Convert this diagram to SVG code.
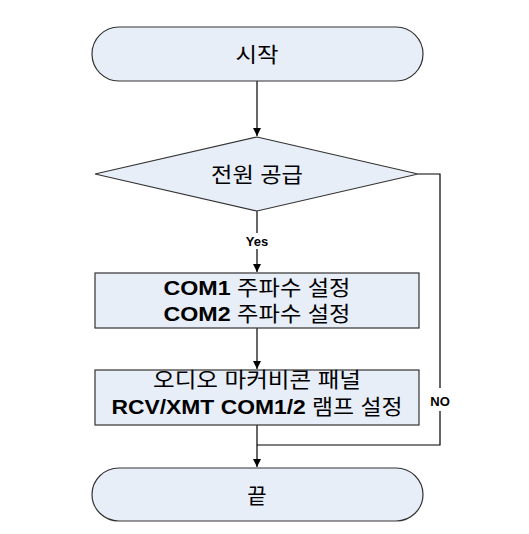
<svg xmlns="http://www.w3.org/2000/svg" width="529" height="534" viewBox="0 0 529 534">
<style>
.shape{fill:#E8EEF8;stroke:#333;stroke-width:1.2}
.conn{fill:none;stroke:#000;stroke-width:1.2}
.t{font-family:"Liberation Sans","Noto Sans CJK KR",sans-serif;font-size:21px;fill:#000;text-anchor:middle;dominant-baseline:central}
.b{font-weight:bold}
.lbl{font-family:"Liberation Sans",Arial,sans-serif;font-size:13px;font-weight:bold;fill:#000;text-anchor:middle;dominant-baseline:central}
</style>
<defs>
<marker id="arr" viewBox="0 0 10 10" refX="10" refY="5" markerWidth="8" markerHeight="9" markerUnits="userSpaceOnUse" orient="auto">
<path d="M0,0 L10,5 L0,10 Z" fill="#000"/>
</marker>
</defs>
<rect width="529" height="534" fill="#fff"/>
<g id="connectors">
<line class="conn" x1="257" y1="81" x2="257" y2="136" marker-end="url(#arr)"/>
<line class="conn" x1="257" y1="211" x2="257" y2="272" marker-end="url(#arr)"/>
<line class="conn" x1="257" y1="328" x2="257" y2="369" marker-end="url(#arr)"/>
<polyline class="conn" points="418,174 440,174 440,445 257,445"/>
<line class="conn" x1="257" y1="424" x2="257" y2="467" marker-end="url(#arr)"/>
<rect x="230" y="233" width="54" height="16" fill="#fff"/>
<text class="lbl" x="257" y="241">Yes</text>
<rect x="427" y="388" width="27" height="23" fill="#fff"/>
<text class="lbl" x="440" y="401.5">NO</text>
</g>
<g id="start">
<rect class="shape" x="92" y="27" width="331" height="54" rx="27" ry="27"/>
<text class="t" x="257" y="54" textLength="43" lengthAdjust="spacingAndGlyphs">시작</text>
</g>
<g id="power">
<polygon class="shape" points="257,137 418,174 257,211 95,174"/>
<text class="t" x="257" y="174" textLength="92" lengthAdjust="spacingAndGlyphs">전원 공급</text>
</g>
<g id="freq">
<rect class="shape" x="95" y="273" width="324" height="55"/>
<text class="t" x="257" y="287" textLength="187" lengthAdjust="spacingAndGlyphs"><tspan class="b">COM1</tspan> 주파수 설정</text>
<text class="t" x="257" y="313" textLength="187" lengthAdjust="spacingAndGlyphs"><tspan class="b">COM2</tspan> 주파수 설정</text>
</g>
<g id="audio">
<rect class="shape" x="95" y="370" width="324" height="55"/>
<text class="t" x="257" y="379" textLength="208" lengthAdjust="spacingAndGlyphs">오디오 마커비콘 패널</text>
<text class="t" x="257" y="406" textLength="291" lengthAdjust="spacingAndGlyphs"><tspan class="b">RCV/XMT COM1/2</tspan> 램프 설정</text>
</g>
<g id="end">
<rect class="shape" x="92" y="468" width="331" height="53" rx="27" ry="26.5"/>
<text class="t" x="257" y="495">끝</text>
</g>
</svg>
